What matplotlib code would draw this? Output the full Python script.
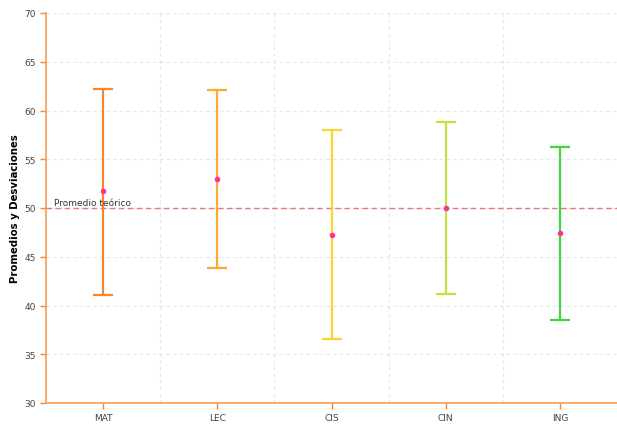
import matplotlib
matplotlib.use('Agg')
from matplotlib import pyplot as plt
from matplotlib.ticker import FixedLocator

categories = ['MAT', 'LEC', 'CIS', 'CIN', 'ING']
means = [51.7, 53.0, 47.2, 50.0, 47.4]
upper = [62.2, 62.1, 58.0, 58.8, 56.3]
lower = [41.1, 43.8, 36.6, 41.2, 38.5]
colors = ['#f7862a', '#fbaa34', '#f6d534', '#c4e03c', '#3fd63f']
teorico = 50

fig = plt.figure(figsize=(6.17, 4.27), dpi=100)
ax = fig.add_axes([46 / 617, 1 - 404 / 427, 571 / 617, 390 / 427])

x = list(range(len(categories)))
for i in x:
    ax.errorbar(i, means[i],
                yerr=[[means[i] - lower[i]], [upper[i] - means[i]]],
                fmt='none', ecolor=colors[i], elinewidth=1.6,
                capsize=7.5, capthick=1.6, zorder=3)
ax.scatter(x, means, s=16, color='#ff2f9a', zorder=4, linewidths=0)

# Reference line
ax.axhline(teorico, color='#e87878', linestyle=(0, (4, 2.5)), linewidth=1, zorder=2)
ax.annotate('Promedio teórico', xy=(-0.43, teorico), xytext=(0, 0.5),
            textcoords='offset points', fontsize=6.5, color='#333333', va='bottom')

# Format plot
ax.set_xlim(-0.5, 4.5)
ax.set_ylim(30, 70)
ax.set_xticks(x)
ax.set_xticklabels(categories)
ax.xaxis.set_minor_locator(FixedLocator([0.5, 1.5, 2.5, 3.5]))
ax.set_yticks(range(30, 71, 5))
ax.grid(axis='y', which='major', color='#e6e6e6', linestyle=(0, (3, 3)), linewidth=0.8)
ax.grid(axis='x', which='minor', color='#e6e6e6', linestyle=(0, (3, 3)), linewidth=0.8)
ax.tick_params(axis='x', which='minor', length=0)
ax.tick_params(axis='both', which='major', labelsize=6.5, colors='#f7862a',
               labelcolor='#444444', length=4, width=1)
for side in ['top', 'right']:
    ax.spines[side].set_visible(False)
for side in ['left', 'bottom']:
    ax.spines[side].set_color('#fb9b50')
    ax.spines[side].set_linewidth(1.2)
ax.set_ylabel('Promedios y Desviaciones', fontsize=7.3, fontweight='bold', labelpad=3)

fig.savefig('out.png', dpi=100)
